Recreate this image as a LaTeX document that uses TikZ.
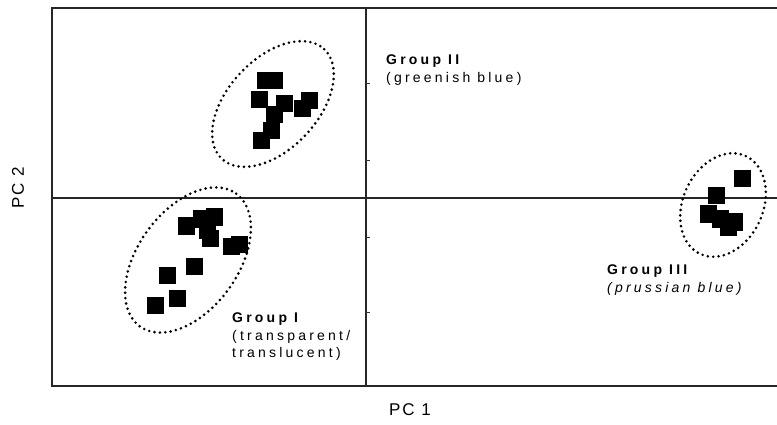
\documentclass[tikz,border=0pt]{standalone}
\usepackage{fontspec}
\setmainfont{Liberation Sans}
\newfontfamily\grpfont[LetterSpace=23]{Liberation Sans}
\newfontfamily\axfont[LetterSpace=12]{Liberation Sans}
\begin{document}
\begin{tikzpicture}[x=1pt,y=-1pt,
  axisline/.style={line width=1.1pt,black!85},
  tickmark/.style={line width=0.6pt,black!80},
  sq/.style={rectangle,fill=black,minimum size=17pt,inner sep=0pt,outer sep=0pt},
  cluster/.style={line width=2.9pt,line cap=round,dash pattern=on 0pt off 5.4pt},
  grplabel/.style={anchor=west,align=left,inner sep=0pt,font=\grpfont\fontsize{14}{17.5}\selectfont},
  axlabel/.style={inner sep=0pt,font=\axfont\fontsize{17}{19}\selectfont}]
\useasboundingbox (0,0) rectangle (777,425);

% plot frame (open on the right) and the two zero axes
\coordinate (tr) at (777,8);
\coordinate (tl) at (52,8);
\coordinate (bl) at (52,386);
\coordinate (br) at (777,386);
\coordinate (hx0) at (52,198);
\coordinate (hx1) at (777,198);
\coordinate (vy0) at (366,8);
\coordinate (vy1) at (366,386);
\draw[axisline] (tr) -- (tl) -- (bl) -- (br);
\draw[axisline] (hx0) -- (hx1);
\draw[axisline] (vy0) -- (vy1);
\foreach \ty in {83,160,237,312}
  \draw[tickmark] (366,\ty) -- (370,\ty);

% Group II scores
\foreach \n/\px/\py in {a/265/81,b/274/81,c/259/100,d/284/104,e/309/101,f/302/109,g/274/115,h/271/131,i/261/141}
  \node[sq] (gii\n) at (\px,\py) {};
% Group I scores
\foreach \n/\px/\py in {a/186/226,b/201/219,c/214/217,d/207/230,e/210/238,f/231/246,g/239/244,h/194/266,i/167/275,j/177/298,k/155/305}
  \node[sq] (gi\n) at (\px,\py) {};
% Group III scores
\foreach \n/\px/\py in {a/742/179,b/716/196,c/708/214,d/720/219,e/734/222,f/728/227}
  \node[sq] (giii\n) at (\px,\py) {};

% dotted envelopes round each group
\draw[cluster,rotate around={47:(273,104)}] (273,104) ellipse (75 and 45);
\draw[cluster,rotate around={54:(188,260)}] (188,260) ellipse (82 and 50);
\draw[cluster,rotate around={65:(723,205)}] (723,205) ellipse (54 and 40);

% group labels
\node[grplabel] (labii) at (386,70) {\bfseries Group II\\(greenish blue)};
\node[grplabel] (labi) at (232,337) {\bfseries Group I\\(transparent/\\translucent)};
\node[grplabel] (labiii) at (607,280) {\bfseries Group III\\\itshape (prussian blue)};

% axis titles
\node[axlabel] (pc1) at (410,410) {PC 1};
\node[axlabel,rotate=90] (pc2) at (18,188) {PC 2};
\end{tikzpicture}
\end{document}
